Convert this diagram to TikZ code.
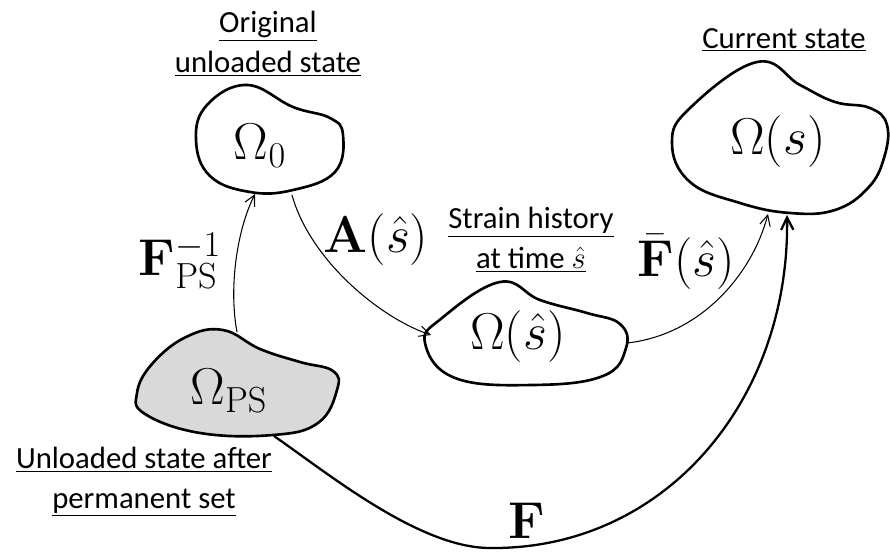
\RequirePackage{fix-cm}
\documentclass[tikz,border=0pt]{standalone}
\usepackage[no-math]{fontspec}
\setmainfont{Carlito}
\usetikzlibrary{arrows.meta}

\tikzset{
  blob/.style={line width=1.5pt, line join=round},
  thinarr/.style={-{Straight Barb[length=6pt,width=6pt]}, line width=0.6pt},
  thickarr/.style={-{Straight Barb[length=7pt,width=7pt]}, line width=1.3pt},
  lbl/.style={align=center, inner sep=0pt, font=\fontsize{17.5}{22.7}\selectfont},
  sym/.style={inner sep=0pt, font=\fontsize{29.5}{34}\selectfont},
}

\begin{document}
\begin{tikzpicture}[x=0.02cm, y=-0.02cm]
\useasboundingbox (0,0) rectangle (890,553);

% Draw blobs
\draw[blob] plot[smooth cycle, tension=0.7] coordinates {(196,140) (207,105) (247,85) (293,107) (330,118) (343,135) (335,172) (293,190) (250,192) (210,176)};
\draw[blob] plot[smooth cycle, tension=0.7] coordinates {(672,143) (690,108) (757,62) (800,85) (835,102) (870,108) (887,125) (884,158) (868,188) (835,210) (790,213) (740,203) (690,182)};
\draw[blob] plot[smooth cycle, tension=0.7] coordinates {(425,343) (442,318) (500,282) (540,300) (587,313) (620,324) (626,348) (603,376) (533,385) (455,378)};
\filldraw[blob, fill=black!15] plot[smooth cycle, tension=0.7] coordinates {(137,393) (152,364) (186,337) (223,330) (260,349) (300,362) (333,371) (337,390) (318,423) (273,435) (200,433) (145,414)};

% State symbols
\node[sym] (om0) at (260,146) {$\Omega_0$};
\node[sym] (oms) at (778,142) {$\Omega(s)$};
\node[sym] (omh) at (518,337) {$\Omega(\hat{s})$};
\node[sym] (omps) at (229,391) {$\Omega_{\mathrm{PS}}$};

% Captions
\node[lbl] (lorig) at (268,44) {\underline{Original}\\\underline{unloaded state}};
\node[lbl] (lcur) at (784,40) {\underline{Current state}};
\node[lbl] (lhist) at (531,240) {\underline{Strain history}\\\underline{at time $\hat{s}$}};
\node[lbl] (lperm) at (144,482) {\underline{Unloaded state after}\\\underline{permanent set}};

% Attachment points on the outlines
\coordinate (om0-s) at (255,194);
\coordinate (om0-se) at (292,195);
\coordinate (omh-w) at (431,335);
\coordinate (omh-e) at (627,343);
\coordinate (oms-sw) at (768,214);
\coordinate (oms-s) at (787,215);
\coordinate (omps-n) at (237,332);
\coordinate (omps-se) at (274,436);

% Maps
\draw[thinarr] (omps-n) .. controls (229,290) and (236,232) .. (om0-s);
\draw[thinarr] (om0-se) .. controls (310,260) and (380,318) .. (omh-w);
\draw[thinarr] (omh-e) .. controls (700,335) and (752,275) .. (oms-sw);
\draw[thickarr] (omps-se) .. controls (330,475) and (420,548) .. (490,548)
  .. controls (665,550) and (790,400) .. (oms-s);

% Map labels
\node[sym] (lfps) at (180,261) {$\mathbf{F}_{\mathrm{PS}}^{-1}$};
\node[sym] (la) at (376,240) {$\mathbf{A}(\hat{s})$};
\node[sym] (lfbar) at (686,262) {$\bar{\mathbf{F}}(\hat{s})$};
\node[sym] (lf) at (527,521) {$\mathbf{F}$};
\end{tikzpicture}
\end{document}
